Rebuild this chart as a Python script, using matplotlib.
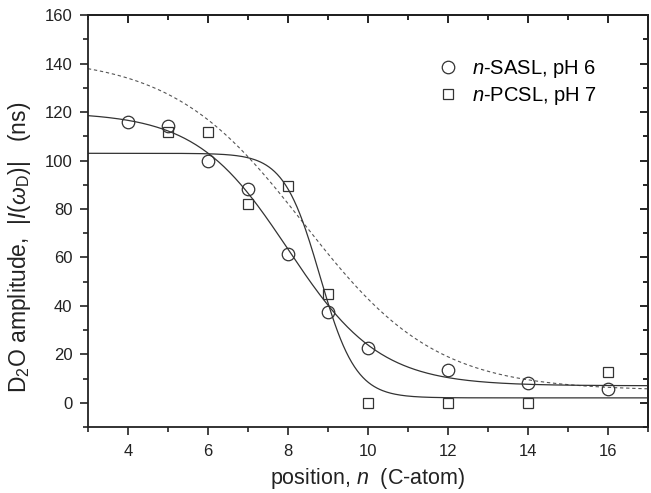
import matplotlib
matplotlib.use('Agg')
import matplotlib.pyplot as plt
import numpy as np

plt.rcParams['font.family'] = ['Liberation Sans', 'DejaVu Sans']
plt.rcParams['mathtext.fontset'] = 'custom'
plt.rcParams['mathtext.rm'] = 'Liberation Sans'
plt.rcParams['mathtext.it'] = 'Liberation Sans:italic'

# data
sasl_n = [4, 5, 6, 7, 8, 9, 10, 12, 14, 16]
sasl_amp = [116, 114.2, 100, 88.4, 61.5, 37.6, 22.8, 13.5, 8.1, 5.5]

pcsl_n = [5, 6, 7, 8, 9, 10, 12, 14, 16]
pcsl_amp = [112, 111.6, 82.2, 89.6, 45, 0, 0, 0, 12.5]

# Boltzmann fit parameters (A1, A2, x0, dx) estimated from the curves
sasl_fit = (120, 7, 8.0, 1.15)
pcsl_fit = (103, 2, 8.8, 0.45)
dash_fit = (143, 5, 8.4, 1.65)


def boltzmann(x, p):
    a1, a2, x0, dx = p
    return a2 + (a1 - a2) / (1 + np.exp((x - x0) / dx))


fig = plt.figure(figsize=(6.51, 4.93), dpi=100)
ax = fig.add_axes([0.135, 0.134, 0.86, 0.835])

xf = np.linspace(3, 17, 400)
ax.plot(xf, boltzmann(xf, dash_fit), color='#555555', lw=0.8, ls=(0, (3, 2.5)))
ax.plot(xf, boltzmann(xf, sasl_fit), color='#333333', lw=0.9)
ax.plot(xf, boltzmann(xf, pcsl_fit), color='#333333', lw=0.9)

ax.plot(sasl_n, sasl_amp, 'o', ms=9, mfc='none', mec='#333333', mew=0.9,
        label=r'$n$-SASL, pH 6')
ax.plot(pcsl_n, pcsl_amp, 's', ms=7.5, mfc='none', mec='#333333', mew=0.9,
        label=r'$n$-PCSL, pH 7')

ax.set_xlim(3, 17)
ax.set_ylim(-10, 160)
ax.set_xticks([4, 6, 8, 10, 12, 14, 16])
ax.set_xticks([3, 5, 7, 9, 11, 13, 15, 17], minor=True)
ax.set_yticks(np.arange(0, 161, 20))
ax.set_yticks(np.arange(-10, 161, 10), minor=True)

for s in ax.spines.values():
    s.set_linewidth(1.3)
    s.set_color('#222222')

ax.tick_params(which='both', direction='out', labelsize=12, width=1.2,
               color='#222222', labelcolor='#222222')
ax.tick_params(which='major', length=6)
ax.tick_params(which='minor', length=3.5)
ax.tick_params(axis='x', which='major', pad=6)
ax.tick_params(axis='y', which='major', pad=5)

# inward ticks on top and right
sec_x = ax.secondary_xaxis('top')
sec_x.set_xticks([4, 6, 8, 10, 12, 14, 16])
sec_x.set_xticks([3, 5, 7, 9, 11, 13, 15, 17], minor=True)
sec_x.tick_params(which='both', direction='in', labeltop=False, width=1.2)
sec_x.tick_params(which='major', length=6)
sec_x.tick_params(which='minor', length=3.5)
sec_x.spines['top'].set_linewidth(1.3)
sec_y = ax.secondary_yaxis('right')
sec_y.set_yticks(np.arange(0, 161, 20))
sec_y.set_yticks(np.arange(-10, 161, 10), minor=True)
sec_y.tick_params(which='both', direction='in', labelright=False, width=1.2)
sec_y.tick_params(which='major', length=6)
sec_y.tick_params(which='minor', length=3.5)
sec_y.spines['right'].set_linewidth(1.3)

ax.set_xlabel(r'position, $n$  (C-atom)', fontsize=15.5, color='#222222')
ax.set_ylabel(r'D$_2$O amplitude,  $|I(\omega_{\rm D})|$   (ns)', fontsize=16.5,
              color='#222222')
ax.xaxis.set_label_coords(0.5, -0.094)
ax.yaxis.set_label_coords(-0.098, 0.437)

ax.legend(loc='upper right', bbox_to_anchor=(0.942, 0.94), frameon=False,
          fontsize=14.5, handletextpad=0.6, labelspacing=0.25, handlelength=1.2)

fig.savefig('out.png', dpi=100)
